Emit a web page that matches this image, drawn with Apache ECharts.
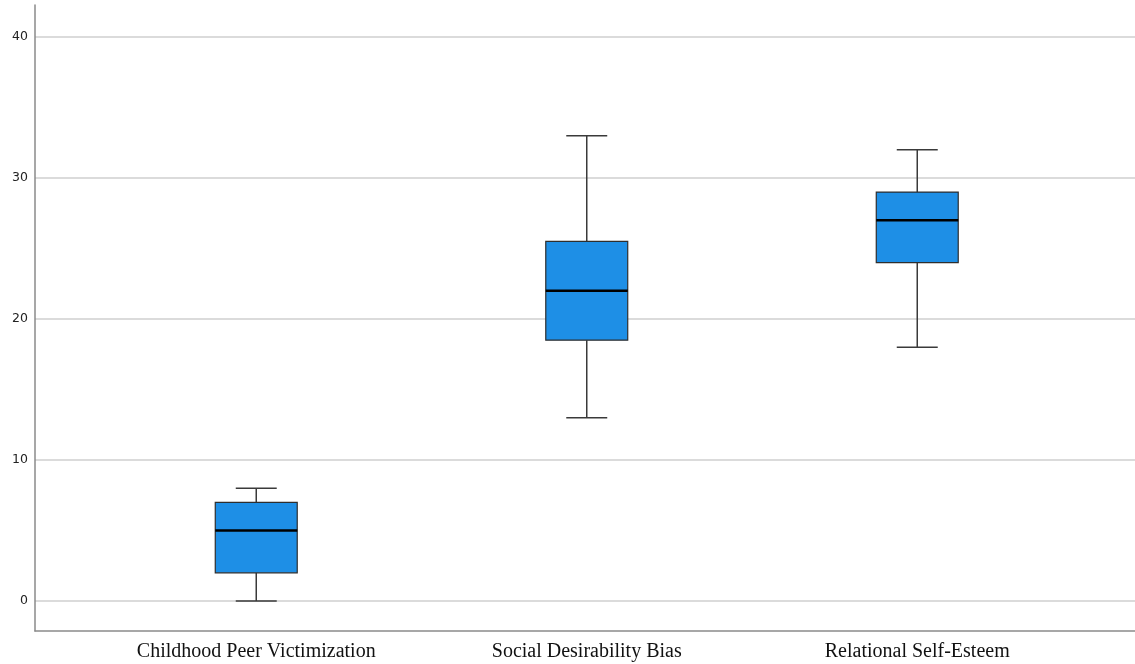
<!DOCTYPE html>
<html>
<head>
<meta charset="utf-8">
<script src="https://cdn.jsdelivr.net/npm/echarts@6/dist/echarts.min.js"></script>
<style>
  html, body { margin: 0; padding: 0; background: #fff; }
  #chart { width: 1135px; height: 664px; }
</style>
</head>
<body>
<div id="chart"></div>
<script>
// Scale names shown along the category axis
const categories = ['Childhood Peer Victimization', 'Social Desirability Bias', 'Relational Self-Esteem'];
// Five-number summaries per scale: [min, Q1, median, Q3, max]
const lowerWhisker = [0, 13, 18];
const q1Values     = [2, 18.5, 24];
const medians      = [5, 22, 27];
const q3Values     = [7, 25.5, 29];
const upperWhisker = [8, 33, 32];
// Value axis ticks
const yTicks = [0, 10, 20, 30, 40];

const boxData = categories.map((c, i) =>
  [i, lowerWhisker[i], q1Values[i], medians[i], q3Values[i], upperWhisker[i]]);

const chart = echarts.init(document.getElementById('chart'), null, { renderer: 'canvas' });

function renderBox(params, api) {
  const idx = api.value(0);
  const band = api.size([1, 0])[0];
  const boxW = band * 0.248;
  const capW = boxW * 0.5;
  const pMin = api.coord([idx, api.value(1)]);
  const pQ1 = api.coord([idx, api.value(2)]);
  const pMed = api.coord([idx, api.value(3)]);
  const pQ3 = api.coord([idx, api.value(4)]);
  const pMax = api.coord([idx, api.value(5)]);
  const cx = pMin[0];
  const whisker = { stroke: '#3a3a3a', lineWidth: 1.5 };
  return {
    type: 'group',
    children: [
      { type: 'line', shape: { x1: cx, y1: pQ3[1], x2: cx, y2: pMax[1] }, style: whisker },
      { type: 'line', shape: { x1: cx, y1: pQ1[1], x2: cx, y2: pMin[1] }, style: whisker },
      { type: 'line', shape: { x1: cx - capW / 2, y1: pMax[1], x2: cx + capW / 2, y2: pMax[1] }, style: whisker },
      { type: 'line', shape: { x1: cx - capW / 2, y1: pMin[1], x2: cx + capW / 2, y2: pMin[1] }, style: whisker },
      { type: 'rect', shape: { x: cx - boxW / 2, y: pQ3[1], width: boxW, height: pQ1[1] - pQ3[1] },
        style: { fill: '#1e8fe6', stroke: '#2e2e2e', lineWidth: 1.2 } },
      { type: 'line', shape: { x1: cx - boxW / 2, y1: pMed[1], x2: cx + boxW / 2, y2: pMed[1] },
        style: { stroke: '#000', lineWidth: 2.6 } }
    ]
  };
}

chart.setOption({
  animation: false,
  backgroundColor: '#fff',
  grid: [
    // value gridlines and tick labels
    { left: 35, right: 0, top: 37, bottom: 63 },
    // box plots and category labels
    { left: 91, right: 52.5, top: 37, bottom: 63 },
    // frame axis lines
    { left: 35, right: 0, top: 5, bottom: 33 }
  ],
  xAxis: [
    { gridIndex: 0, type: 'value', show: false, min: 0, max: 1 },
    { gridIndex: 1, type: 'category', data: categories,
      axisLine: { show: false }, axisTick: { show: false }, splitLine: { show: false },
      axisLabel: { margin: 41, color: '#111', fontFamily: 'Liberation Serif', fontSize: 20 } },
    { gridIndex: 2, type: 'value', min: 0, max: 1,
      axisLine: { show: true, onZero: false, lineStyle: { color: '#8a8a8a', width: 1.5 } },
      axisTick: { show: false }, axisLabel: { show: false }, splitLine: { show: false } }
  ],
  yAxis: [
    { gridIndex: 0, type: 'value', min: yTicks[0], max: yTicks[yTicks.length - 1], interval: 10,
      axisLine: { show: false }, axisTick: { show: false },
      axisLabel: { margin: 7, color: '#222', fontFamily: 'DejaVu Sans', fontSize: 12.5 },
      splitLine: { show: true, lineStyle: { color: '#cfcfcf', width: 1.5 } } },
    { gridIndex: 1, type: 'value', min: yTicks[0], max: yTicks[yTicks.length - 1], show: false },
    { gridIndex: 2, type: 'value', min: 0, max: 1,
      axisLine: { show: true, onZero: false, lineStyle: { color: '#8a8a8a', width: 1.5 } },
      axisTick: { show: false }, axisLabel: { show: false }, splitLine: { show: false } }
  ],
  series: [{
    type: 'custom',
    xAxisIndex: 1,
    yAxisIndex: 1,
    clip: false,
    renderItem: renderBox,
    encode: { x: 0, y: [1, 2, 3, 4, 5] },
    data: boxData
  }]
});
</script>
</body>
</html>
